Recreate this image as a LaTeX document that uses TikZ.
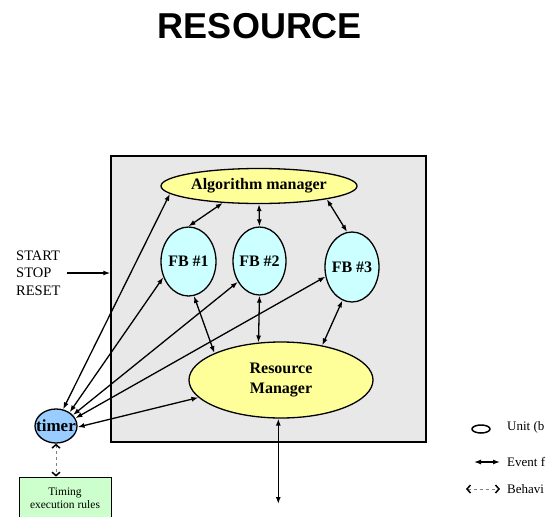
\documentclass[tikz,border=0pt]{standalone}
\usepackage{fontspec}
\setmainfont{Liberation Serif}
\newfontfamily\headfont{Liberation Sans}
\usetikzlibrary{shapes.geometric,arrows.meta}

\definecolor{boxgray}{HTML}{E8E8E8}
\definecolor{mgryellow}{HTML}{FFFF99}
\definecolor{fbcyan}{HTML}{CCFFFF}
\definecolor{timerblue}{HTML}{99CCFF}
\definecolor{rulegreen}{HTML}{CCFFCC}

\begin{document}
\begin{tikzpicture}[x=1pt,y=-1pt,
  unit/.style={ellipse,draw,line width=1.3pt,inner sep=0pt,
    font=\fontsize{16}{20}\selectfont\bfseries},
  link/.style={<->,line width=1.3pt,>={Latex[length=7pt,width=5pt]}},
  behav/.style={<->,dashed,gray,line width=0.6pt,
    >={Straight Barb[length=3.5pt,width=8pt,black,line width=1.5pt]}}]
\useasboundingbox (0,0) rectangle (547,517);
% title and resource box
\node[font=\headfont\fontsize{36}{40}\selectfont\bfseries] (title) at (260,26) {RESOURCE};
\node[draw,line width=1.5pt,fill=boxgray,minimum width=315pt,minimum height=286pt] (res) at (268.5,299) {};
% units
\node[unit,fill=mgryellow,minimum width=196pt,minimum height=35pt] (am) at (259,186) {\makebox[0pt]{Algorithm manager}};
\node[unit,fill=fbcyan,minimum width=55pt,minimum height=69pt] (fb1) at (188.5,261.5) {\makebox[0pt]{FB \#1}};
\node[unit,fill=fbcyan,minimum width=53pt,minimum height=68pt] (fb2) at (259.5,261) {\makebox[0pt]{FB \#2}};
\node[unit,fill=fbcyan,minimum width=54pt,minimum height=70pt] (fb3) at (352,267) {\makebox[0pt]{FB \#3}};
\node[unit,fill=mgryellow,minimum width=184pt,minimum height=76pt,align=center] (rm) at (281,380) {Resource\\Manager};
\node[unit,fill=timerblue,minimum width=42pt,minimum height=34pt,font=\fontsize{17}{18}\selectfont\bfseries] (timer) at (56,426) {\makebox[0pt]{timer}};
\node[draw,line width=0.8pt,fill=rulegreen,minimum width=92pt,minimum height=42pt,align=center,
  font=\fontsize{11.5}{13}\selectfont] (rules) at (65,498) {Timing\\execution rules};
% commands into the resource
\node[anchor=west,align=left,inner sep=0pt,font=\fontsize{14.5}{17.5}\selectfont] (cmds) at (16,273) {START\\STOP\\RESET};
\draw[link,->] ([xshift=6pt]cmds.east) -- (cmds.east -| res.west);
% event links
\draw[link] (am.205) -- (fb1.north);
\draw[link] (am.south) -- (fb2.north);
\draw[link] (am.349) -- (fb3.98);
\draw[link] (fb1.279) -- (rm.158);
\draw[link] (fb2.south) -- (rm.121);
\draw[link] (fb3.254) -- (rm.40);
\draw[link] (timer.67) -- (am.185);
\draw[link] (timer.45) -- (fb1.212);
\draw[link] (timer.33) -- (fb2.224);
\draw[link] (timer.22) -- (fb3.200);
\draw[link] (timer.-3) -- (rm.192);
\path (278,504) coordinate (bus);
\draw[link] (rm.266) -- (rm.266 |- bus);
% behaviour link
\draw[behav] (timer.south) -- (timer.south |- rules.north);
% legend
\node[ellipse,draw,line width=1.5pt,minimum width=18pt,minimum height=8pt,inner sep=0pt] (unitkey) at (481,429) {};
\path (474,462) coordinate (ev1); \path (500,462) coordinate (ev2);
\path (466,489) coordinate (bh1); \path (500,489) coordinate (bh2);
\draw[link] (ev1) -- (ev2);
\draw[behav] (bh1) -- (bh2);
\node[anchor=base west,inner sep=0pt,font=\fontsize{13}{14}\selectfont] (unittxt) at (507,430) {Unit (b};
\node[anchor=base west,inner sep=0pt,font=\fontsize{13}{14}\selectfont] (evtxt) at (507,466) {Event f};
\node[anchor=base west,inner sep=0pt,font=\fontsize{13}{14}\selectfont] (bhtxt) at (507,493) {Behavi};
\end{tikzpicture}
\end{document}
